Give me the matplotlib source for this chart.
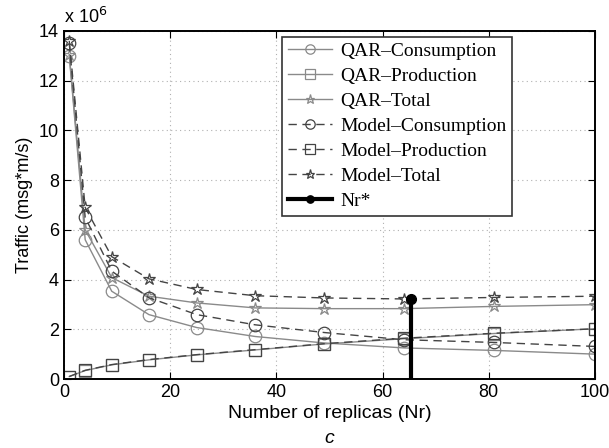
import matplotlib.pyplot as plt
import numpy as np

plt.rcParams['font.family'] = ['Liberation Sans', 'DejaVu Sans']

# number of replicas
nr = np.array([1, 4, 9, 16, 25, 36, 49, 64, 81, 100])

# traffic in units of 1e6 msg*m/s
qar_cons = np.array([13.0, 5.6, 3.53, 2.59, 2.07, 1.71, 1.45, 1.25, 1.15, 1.0])
qar_prod = np.array([0.1, 0.34, 0.57, 0.77, 0.97, 1.17, 1.41, 1.62, 1.83, 2.02])
qar_total = np.array([13.05, 6.0, 4.08, 3.33, 3.06, 2.86, 2.83, 2.83, 2.92, 2.99])
model_cons = np.array([13.5, 6.5, 4.34, 3.27, 2.59, 2.18, 1.87, 1.58, 1.47, 1.31])
model_prod = np.array([0.1, 0.35, 0.58, 0.78, 0.98, 1.18, 1.42, 1.64, 1.84, 2.02])
model_total = np.array([13.6, 6.9, 4.92, 4.03, 3.6, 3.35, 3.26, 3.22, 3.28, 3.33])

nr_star = 65.3
nr_star_traffic = 3.22

light = '#8a8a8a'
dark = '#444444'

fig = plt.figure(figsize=(6.09, 4.48), dpi=100)
ax = fig.add_axes([0.105, 0.154, 0.872, 0.777])

mk = dict(markersize=9, markerfacecolor='none', markeredgewidth=0.9)
ax.plot(nr, qar_cons, '-', marker='o', color=light, lw=1, label='QAR\u2013Consumption', **mk)
ax.plot(nr, qar_prod, '-', marker='s', color=light, lw=1, label='QAR\u2013Production', **mk)
ax.plot(nr, qar_total, '-', marker='*', color=light, lw=1, label='QAR\u2013Total', **mk)
ax.plot(nr, model_cons, '--', marker='o', color=dark, lw=1, dashes=(6, 4), label='Model\u2013Consumption', **mk)
ax.plot(nr, model_prod, '--', marker='s', color=dark, lw=1, dashes=(6, 4), label='Model\u2013Production', **mk)
ax.plot(nr, model_total, '--', marker='*', color=dark, lw=1, dashes=(6, 4), label='Model\u2013Total', **mk)
ax.plot([nr_star, nr_star], [0, nr_star_traffic], '-', color='black', lw=3,
        marker='o', markevery=[1], markersize=7, label='Nr*')

ax.set_xlim(0, 100)
ax.set_ylim(0, 14)
ax.set_xticks(np.arange(0, 101, 20))
ax.set_yticks(np.arange(0, 15, 2))
ax.grid(True, linestyle=(0, (1, 3)), color='#b0b0b0', lw=0.8)
ax.tick_params(direction='in', top=True, right=True, labelsize=13, length=5)
for s in ax.spines.values():
    s.set_linewidth(1.4)

ax.text(0, 1.01, r'x 10$^6$', transform=ax.transAxes, fontsize=13, va='bottom')
ax.set_ylabel('Traffic (msg*m/s)', fontsize=13)
ax.set_xlabel('Number of replicas (Nr)', fontsize=14, labelpad=3)
fig.text(0.541, 0.012, 'c', fontsize=14, style='italic', ha='center')

leg = ax.legend(loc='upper left', bbox_to_anchor=(0.41, 0.983), borderaxespad=0,
                fancybox=False, edgecolor='#333333', framealpha=1,
                handlelength=2.3, markerscale=0.75,
                prop={'family': 'Liberation Serif', 'size': 14},
                borderpad=0.3, labelspacing=0.38, handletextpad=0.4)
leg.get_frame().set_linewidth(1.2)

fig.savefig('out.png', dpi=100)
